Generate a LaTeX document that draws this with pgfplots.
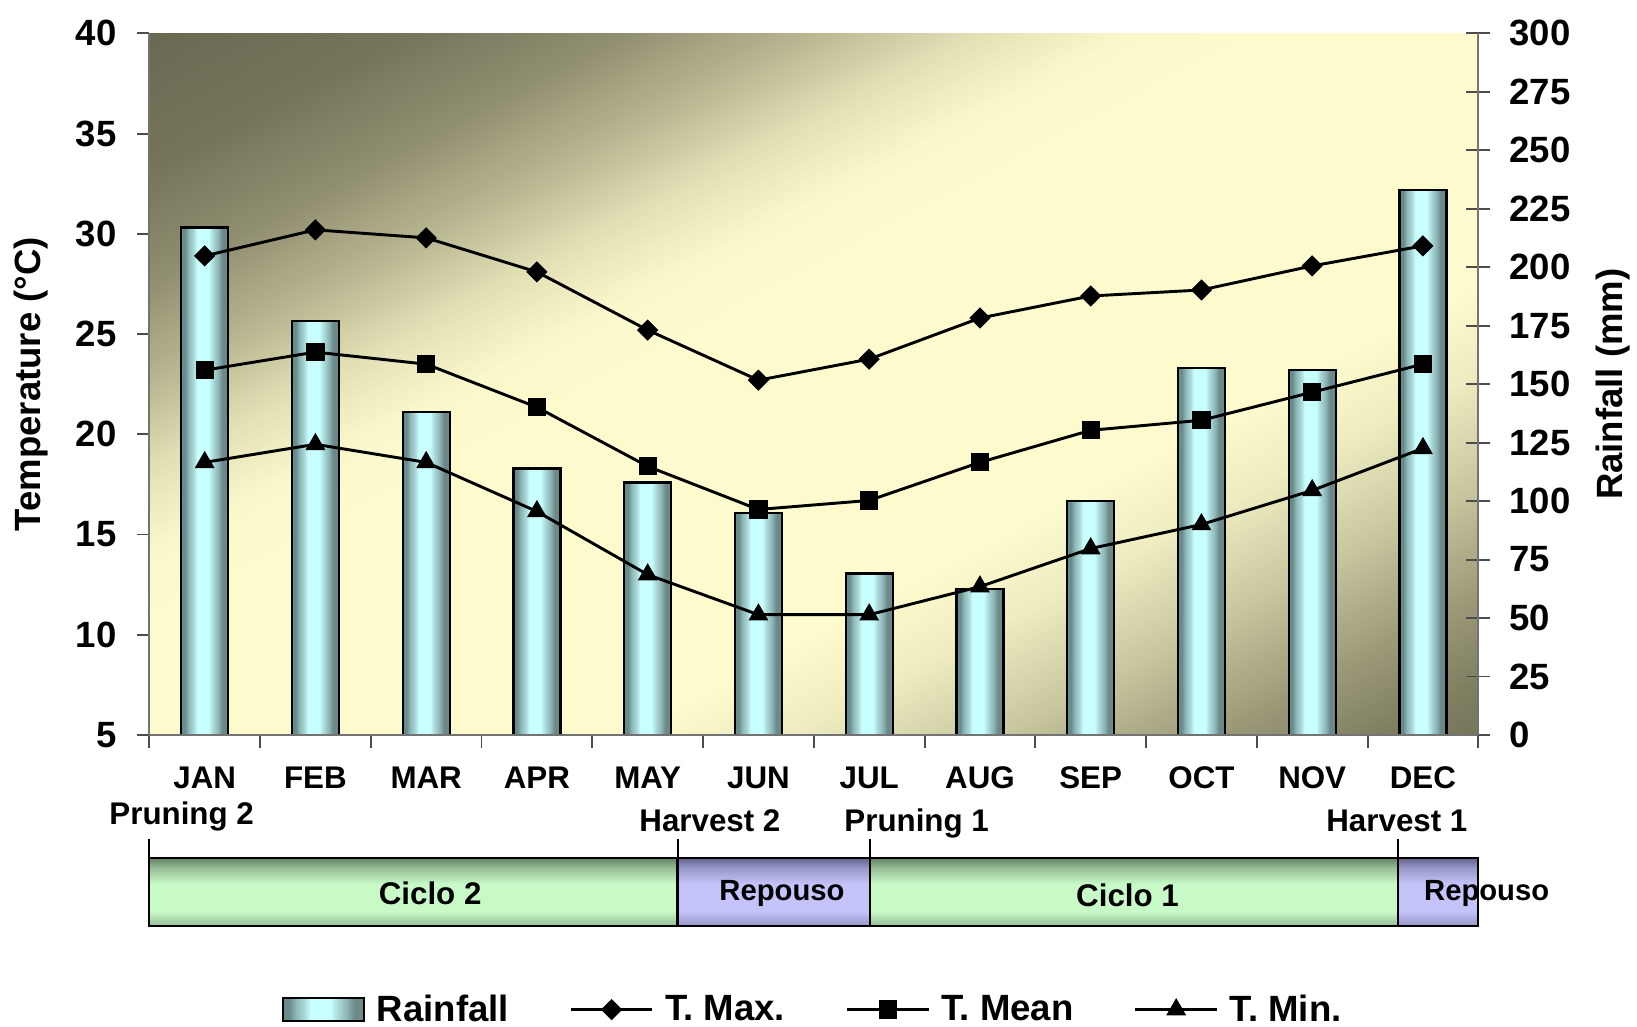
\documentclass[border=0pt]{standalone}
\usepackage{pgfplots}
\pgfplotsset{compat=1.18}
\usepackage{fontspec}
\setmainfont{Liberation Sans}

\definecolor{dkA}{RGB}{105,105,82}
\definecolor{bg1}{RGB}{118,117,91}
\definecolor{bg2}{RGB}{145,143,113}
\definecolor{bg3}{RGB}{185,183,145}
\definecolor{bg4}{RGB}{225,223,180}
\definecolor{bg4b}{RGB}{250,248,203}
\definecolor{ltY}{RGB}{253,251,205}
\definecolor{bg5}{RGB}{238,236,192}
\definecolor{bg6}{RGB}{200,198,158}
\definecolor{bg7}{RGB}{155,153,120}
\definecolor{bg8}{RGB}{128,127,98}
\definecolor{dkB}{RGB}{118,117,90}
\pgfdeclarehorizontalshading{bgshade}{100bp}{color(0bp)=(dkA); color(25bp)=(dkA); color(30bp)=(bg1); color(34bp)=(bg2); color(37.5bp)=(bg3); color(40.5bp)=(bg4); color(43.5bp)=(bg4b); color(46bp)=(ltY); color(59bp)=(ltY); color(62bp)=(bg5); color(66bp)=(bg6); color(70bp)=(bg7); color(73bp)=(bg8); color(75bp)=(dkB); color(100bp)=(dkB)}

\definecolor{cA}{RGB}{104,140,140}
\definecolor{cB}{RGB}{143,184,184}
\definecolor{cE}{RGB}{170,215,215}
\definecolor{cC}{RGB}{200,255,255}
\definecolor{cD}{RGB}{108,136,136}
\pgfdeclarehorizontalshading{cyl}{100bp}{color(0bp)=(cA); color(25bp)=(cA); color(29bp)=(cA); color(33bp)=(cB); color(38bp)=(cE); color(42bp)=(cC); color(54bp)=(cC); color(59bp)=(cE); color(64bp)=(cB); color(69bp)=(cD); color(75bp)=(cD); color(100bp)=(cD)}

\definecolor{gDk}{RGB}{100,130,100}
\definecolor{gMd}{RGB}{150,188,150}
\definecolor{gLt}{RGB}{200,250,200}
\definecolor{pDk}{RGB}{100,100,140}
\definecolor{pMd}{RGB}{150,150,200}
\definecolor{pLt}{RGB}{196,196,250}
\pgfdeclareverticalshading{gsh}{100bp}{color(0bp)=(gMd); color(25bp)=(gMd); color(36bp)=(gLt); color(56bp)=(gLt); color(68bp)=(gMd); color(75bp)=(gDk); color(100bp)=(gDk)}
\pgfdeclareverticalshading{psh}{100bp}{color(0bp)=(pMd); color(25bp)=(pMd); color(36bp)=(pLt); color(56bp)=(pLt); color(68bp)=(pMd); color(75bp)=(pDk); color(100bp)=(pDk)}

\tikzset{
  barsty/.style={draw=black, line width=1.1pt, shading=cyl, shading angle=0},
  ann/.style={font=\fontsize{15}{18}\selectfont\bfseries, anchor=base, inner sep=0pt},
  phl/.style={font=\fontsize{15}{18}\selectfont\bfseries, anchor=center, inner sep=0pt},
  phs/.style={font=\fontsize{14}{17}\selectfont\bfseries, anchor=center, inner sep=0pt},
}

\begin{document}
\begin{tikzpicture}
\useasboundingbox (-71.5pt,-139.5pt) rectangle (712.5pt,352pt);

% plot-area background (diagonal gradient)
\begin{scope}
  \clip (0pt,0pt) rectangle (636.5pt,336pt);
  \begin{scope}[transform canvas={shift={(318.25pt,168pt)}, xscale=1.89435, rotate=-45}]
    \shade[shading=bgshade, shading angle=0] (-238pt,-238pt) rectangle (238pt,238pt);
  \end{scope}
\end{scope}

% Rainfall axis (right)
\begin{axis}[
  at={(0pt,0pt)}, anchor=south west,
  scale only axis, width=636.5pt, height=336pt,
  xmin=-0.5, xmax=11.5, ymin=0, ymax=300,
  axis x line=none, axis y line*=right,
  axis line style={draw=black!55, line width=0.9pt},
  ytick={0,25,...,300},
  tick align=center, major tick length=11.5pt,
  ytick style={draw=black!70, line width=0.9pt},
  yticklabel style={font=\fontsize{17.5}{21}\selectfont\bfseries, anchor=west, inner sep=0pt, xshift=9pt},
  /pgf/number format/assume math mode=true,
  ylabel={Rainfall (mm)},
  ylabel style={font=\fontsize{17.5}{21}\selectfont\bfseries, at={(axis description cs:1.1013,0.5)}, anchor=center},
  clip=false,
]
\addplot[ybar, bar width=22.5pt, barsty] coordinates {(0,217)};
\addplot[ybar, bar width=22.5pt, barsty] coordinates {(1,177)};
\addplot[ybar, bar width=22.5pt, barsty] coordinates {(2,138)};
\addplot[ybar, bar width=22.5pt, barsty] coordinates {(3,114)};
\addplot[ybar, bar width=22.5pt, barsty] coordinates {(4,108)};
\addplot[ybar, bar width=22.5pt, barsty] coordinates {(5,95)};
\addplot[ybar, bar width=22.5pt, barsty] coordinates {(6,69)};
\addplot[ybar, bar width=22.5pt, barsty] coordinates {(7,62.5)};
\addplot[ybar, bar width=22.5pt, barsty] coordinates {(8,100)};
\addplot[ybar, bar width=22.5pt, barsty] coordinates {(9,157)};
\addplot[ybar, bar width=22.5pt, barsty] coordinates {(10,156)};
\addplot[ybar, bar width=22.5pt, barsty] coordinates {(11,233)};
\end{axis}

% Temperature axis (left)
\begin{axis}[
  at={(0pt,0pt)}, anchor=south west,
  scale only axis, width=636.5pt, height=336pt,
  xmin=-0.5, xmax=11.5, ymin=5, ymax=40,
  axis x line*=bottom, axis y line*=left,
  axis line style={draw=black!55, line width=0.9pt},
  xtick={0,...,11},
  xticklabels={JAN,FEB,MAR,APR,MAY,JUN,JUL,AUG,SEP,OCT,NOV,DEC},
  minor xtick={-0.5,0.5,...,11.5},
  major x tick style={draw=none},
  minor x tick style={draw=black!70, line width=0.9pt},
  minor tick length=6pt,
  ytick={5,10,...,40},
  tick align=outside,
  major tick length=6pt,
  ytick style={draw=black!70, line width=0.9pt},
  xticklabel style={font=\fontsize{15}{18}\selectfont\bfseries, anchor=base, inner sep=0pt, yshift=-19.5pt},
  yticklabel style={font=\fontsize{17.5}{21}\selectfont\bfseries, anchor=east, inner sep=0pt, xshift=-9.5pt},
  /pgf/number format/assume math mode=true,
  ylabel={Temperature (°C)},
  ylabel style={font=\fontsize{17.5}{21}\selectfont\bfseries, at={(axis description cs:-0.0888,0.5)}, anchor=center},
  clip=false,
  legend columns=4,
  legend style={at={(axis description cs:0.5,-0.3914)}, anchor=center, draw=none, fill=none,
    font=\fontsize{17.5}{20}\selectfont\bfseries,
    /tikz/every odd column/.append style={column sep=3.5pt},
    /tikz/every even column/.append style={column sep=27pt}},
  legend image code/.code={\draw[mark repeat=2,mark phase=2,#1] plot coordinates {(0pt,0pt) (19.5pt,0pt) (39pt,0pt)};},
]
\addlegendimage{legend image code/.code={\draw[barsty, line width=1pt] (0pt,-5.5pt) rectangle (39pt,5.5pt);}}
\addlegendentry{Rainfall}

\addplot[black, line width=1.4pt, mark=square*, mark size=3.35pt, mark options={rotate=45, solid, line width=0.5pt}] coordinates {
(0,28.9) (1,30.2) (2,29.8) (3,28.1) (4,25.2) (5,22.7) (6,23.75) (7,25.8) (8,26.9) (9,27.2) (10,28.4) (11,29.4)};
\addlegendentry{T. Max.}

\addplot[black, line width=1.4pt, mark=square*, mark size=4.1pt, mark options={solid, line width=0.5pt}] coordinates {
(0,23.2) (1,24.1) (2,23.5) (3,21.35) (4,18.4) (5,16.25) (6,16.7) (7,18.6) (8,20.2) (9,20.7) (10,22.1) (11,23.5)};
\addlegendentry{T. Mean}

\addplot[black, line width=1.4pt, mark=triangle*, mark size=5pt, mark options={solid, line width=0.5pt}] coordinates {
(0,18.6) (1,19.5) (2,18.6) (3,16.15) (4,13.0) (5,11.0) (6,11.0) (7,12.4) (8,14.3) (9,15.5) (10,17.2) (11,19.3)};
\addlegendentry{T. Min.}
\end{axis}

% Phenology annotations
\node[ann] at (15.5pt,-43pt) {Pruning 2};
\node[ann] at (268.5pt,-46pt) {Harvest 2};
\node[ann] at (367.5pt,-46pt) {Pruning 1};
\node[ann] at (597.5pt,-46pt) {Harvest 1};

\shadedraw[shading=gsh, draw=black, line width=1.1pt] (0pt,-59pt) rectangle (253pt,-91.5pt);
\shadedraw[shading=psh, draw=black, line width=1.1pt] (253pt,-59pt) rectangle (345pt,-91.5pt);
\shadedraw[shading=gsh, draw=black, line width=1.1pt] (345pt,-59pt) rectangle (598pt,-91.5pt);
\shadedraw[shading=psh, draw=black, line width=1.1pt] (598pt,-59pt) rectangle (636.5pt,-91.5pt);
\foreach \x in {0,253,345,598} {\draw[black, line width=0.9pt] (\x pt,-50pt) -- (\x pt,-59pt);}

\node[phl] at (134.5pt,-76pt) {Ciclo 2};
\node[phs] at (303pt,-76pt) {Repouso};
\node[phl] at (468.5pt,-77pt) {Ciclo 1};
\node[phs] at (640.5pt,-76pt) {Repouso};
\end{tikzpicture}
\end{document}
